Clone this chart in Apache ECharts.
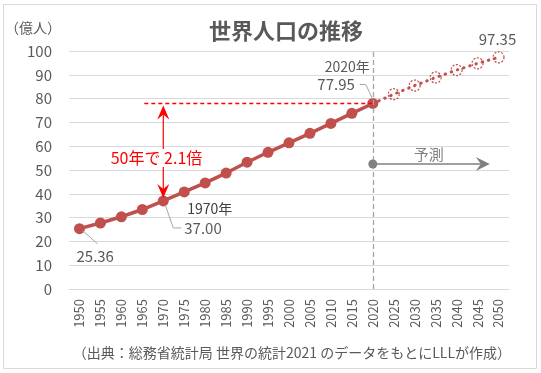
<!DOCTYPE html>
<html><head><meta charset="utf-8">
<script src="https://cdn.jsdelivr.net/npm/echarts@6/dist/echarts.min.js"></script>
<style>html,body{margin:0;padding:0;background:#fff}#c{width:541px;height:373px}</style>
</head><body><div id="c"></div>
<script>
const years = ['1950','1955','1960','1965','1970','1975','1980','1985','1990','1995','2000','2005','2010','2015','2020','2025','2030','2035','2040','2045','2050'];
const actual = [25.36,27.73,30.35,33.40,37.00,40.79,44.58,48.71,53.27,57.44,61.43,65.42,69.57,73.80,77.95];
const forecast = [81.84,85.48,88.88,91.99,94.82,97.35];
const yMin = 0, yMax = 100, yStep = 10;
const titleText = '世界人口の推移';
const unitText = '（億人）';
const sourceText = '（出典：総務省統計局 世界の統計2021 のデータをもとにLLLが作成）';
const ratioText = '50年で 2.1倍';
const forecastText = '予測';

const FONT = 'Noto Sans CJK JP';
const RED = '#c0504d';
const GRAY = '#595959';

const actualData = actual.concat(new Array(years.length - actual.length).fill(null));
const forecastData = new Array(actual.length - 1).fill(null)
  .concat([{ value: actual[actual.length - 1], symbol: 'none' }])
  .concat(forecast);

const chart = echarts.init(document.getElementById('c'), null, { renderer: 'canvas' });
chart.setOption({
  animation: false,
  backgroundColor: '#fff',
  textStyle: { fontFamily: FONT },
  title: {
    text: titleText, left: 204, top: 15,
    textStyle: { fontFamily: FONT, fontSize: 22, fontWeight: 'bold', color: GRAY }
  },
  grid: { left: 69, right: 32, top: 51, bottom: 84 },
  xAxis: {
    type: 'category', data: years, boundaryGap: true,
    axisLine: { lineStyle: { color: '#d9d9d9', width: 1 } },
    axisTick: { show: false },
    axisLabel: { rotate: 90, margin: 10, fontSize: 13, color: GRAY, fontFamily: FONT, interval: 0 }
  },
  yAxis: {
    type: 'value', min: yMin, max: yMax, interval: yStep,
    axisLine: { show: false }, axisTick: { show: false },
    splitLine: { lineStyle: { color: '#d9d9d9', width: 1 } },
    axisLabel: { margin: 17, fontSize: 15, color: GRAY, fontFamily: FONT }
  },
  series: [
    {
      type: 'line', data: actualData, z: 3,
      symbol: 'circle', symbolSize: 11,
      lineStyle: { color: RED, width: 3.5 },
      itemStyle: { color: RED },
      markLine: {
        silent: true, symbol: 'none', label: { show: false },
        lineStyle: { color: '#a6a6a6', type: [5, 3], width: 1.3 },
        data: [{ xAxis: '2020' }]
      }
    },
    {
      type: 'line', data: forecastData, z: 3,
      symbol: 'circle', symbolSize: 11,
      lineStyle: { color: RED, width: 3, type: [0.5, 6], cap: 'round' },
      itemStyle: { color: 'rgba(0,0,0,0)', borderColor: RED, borderWidth: 1.2, borderType: [2, 1.5] }
    }
  ]
});

function px(i, v) { return chart.convertToPixel({ gridIndex: 0 }, [i, v]); }
const i1970 = years.indexOf('1970'), i2020 = years.indexOf('2020'), iLast = years.length - 1;
const P1950 = px(0, actual[0]);
const P1970 = px(i1970, actual[i1970]);
const P2020 = px(i2020, actual[i2020]);
const PLast = px(iLast, forecast[forecast.length - 1]);
const yArrow = px(i2020, 52.5)[1];
const yRatio = px(i1970, 55)[1];

function txt(x, y, text, size, color, align, extra) {
  return {
    type: 'text', x: x, y: y, z: 20,
    style: Object.assign({ text: text, fontSize: size, fontFamily: FONT, fill: color, align: align || 'left', verticalAlign: 'middle' }, extra || {})
  };
}
function seg(points, color, width) {
  return { type: 'polyline', z: 15, shape: { points: points }, style: { stroke: color, lineWidth: width, fill: null } };
}

const g = [];
g.push({ type: 'rect', z: 1, shape: { x: 3.5, y: 4.5, width: 533, height: 364 }, style: { stroke: '#d9d9d9', fill: null, lineWidth: 1 } });
g.push(txt(61, 28, unitText, 14, GRAY, 'right'));
g.push(txt(511, 353, sourceText, 14, GRAY, 'right'));

// data labels + leaders
g.push(txt(PLast[0] - 1, PLast[1] - 18, forecast[forecast.length - 1].toFixed(2), 15, GRAY, 'center'));
g.push(txt(P2020[0] - 3, P2020[1] - 37, '2020年', 14, GRAY, 'right'));
g.push(txt(P2020[0] - 18, P2020[1] - 19, actual[i2020].toFixed(2), 15, GRAY, 'right'));
g.push(seg([[P2020[0] - 13, P2020[1] - 19], [P2020[0] - 7, P2020[1] - 19], [P2020[0], P2020[1] - 4]], '#a6a6a6', 1));
g.push(txt(P1970[0] + 24, P1970[1] + 8, '1970年', 14, '#404040', 'left'));
g.push(txt(P1970[0] + 21, P1970[1] + 27, actual[i1970].toFixed(2), 15, GRAY, 'left'));
g.push(seg([[P1970[0] + 2, P1970[1] + 4], [P1970[0] + 10, P1970[1] + 27], [P1970[0] + 18, P1970[1] + 27]], '#a6a6a6', 1));
g.push(txt(P1950[0] - 3, P1950[1] + 28, actual[0].toFixed(2), 15, GRAY, 'left'));
g.push(seg([[P1950[0] + 3, P1950[1] + 2], [P1950[0] + 18, P1950[1] + 15]], '#a6a6a6', 1));

// red comparison line + double arrow
const ax = P1970[0];
const topTip = P2020[1] + 2, botTip = P1970[1] - 3;
const dashY = Math.round(P2020[1]) + 0.5;
g.push({ type: 'line', z: 15, shape: { x1: ax - 19, y1: dashY, x2: P2020[0], y2: dashY },
  style: { stroke: '#ff0000', lineWidth: 1.3, lineDash: [4, 3] } });
g.push(seg([[ax, topTip + 8], [ax, botTip - 8]], '#ff0000', 1.2));
g.push({ type: 'polygon', z: 16, shape: { points: [[ax, topTip], [ax - 6, topTip + 14], [ax, topTip + 9], [ax + 6, topTip + 14]] }, style: { fill: '#ff0000' } });
g.push({ type: 'polygon', z: 16, shape: { points: [[ax, botTip], [ax - 6, botTip - 14], [ax, botTip - 9], [ax + 6, botTip - 14]] }, style: { fill: '#ff0000' } });
g.push(txt(ax + 39, yRatio, ratioText, 16, '#ff0000', 'right', { backgroundColor: '#fff', padding: [1, 0] }));

// forecast arrow
const fx = P2020[0];
g.push({ type: 'circle', z: 16, shape: { cx: fx, cy: yArrow, r: 4.5 }, style: { fill: '#808080' } });
g.push(seg([[fx, yArrow], [fx + 110, yArrow]], '#808080', 1.5));
g.push({ type: 'polygon', z: 16, shape: { points: [[fx + 117, yArrow], [fx + 103, yArrow - 7], [fx + 108, yArrow], [fx + 103, yArrow + 7]] }, style: { fill: '#808080' } });
g.push(txt(fx + 56, yArrow - 10, forecastText, 15, '#808080', 'center'));

chart.setOption({ graphic: g });
</script>
</body></html>
